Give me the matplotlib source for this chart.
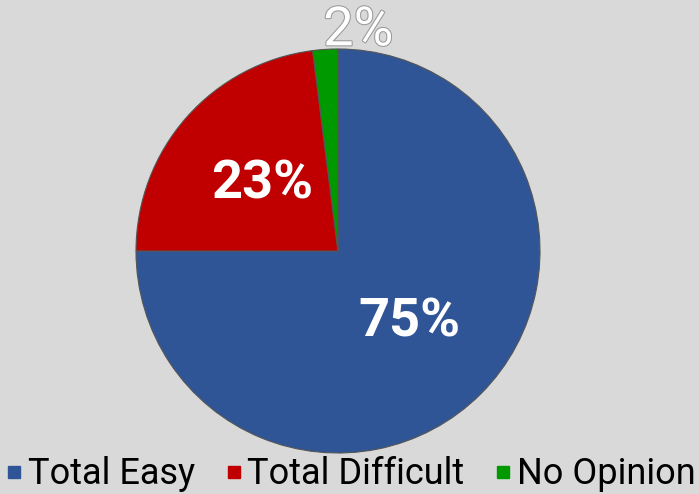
import matplotlib.pyplot as plt
import matplotlib.patheffects as pe
from matplotlib.lines import Line2D

# data
labels = ['Total Easy', 'Total Difficult', 'No Opinion']
values = [75, 23, 2]
colors = ['#2f5597', '#c00000', '#009a00']

plt.rcParams['font.family'] = ['Roboto', 'DejaVu Sans']

fig = plt.figure(figsize=(6.99, 4.94), dpi=100)
fig.patch.set_facecolor('#d9d9d9')

# pie centre (338, 251) px, radius 202 px
ax = fig.add_axes([(338 - 202) / 699, (494 - 453) / 494, 404 / 699, 404 / 494])
ax.set_facecolor('none')

wedges, texts, autotexts = ax.pie(
    values, colors=colors, startangle=90, counterclock=False,
    autopct='%1.0f%%', pctdistance=0.5,
    wedgeprops=dict(edgecolor='#555555', linewidth=0.8),
    textprops=dict(color='white', fontsize=39, fontweight='bold'))
ax.set_xlim(-1, 1)
ax.set_ylim(-1, 1)
ax.set_aspect('equal')

# small slice label sits above the pie
autotexts[2].set_position((0.1, 1.09))
autotexts[2].set_fontweight('normal')
autotexts[2].set_path_effects([pe.withStroke(linewidth=1.5, foreground='#999999')])

handles = [Line2D([], [], marker='s', linestyle='none', markersize=9,
                  markerfacecolor=c, markeredgecolor=c) for c in colors]
fig.legend(handles, labels, loc='lower center', bbox_to_anchor=(0.503, -0.055),
           ncol=3, frameon=False, fontsize=26, handlelength=0.35,
           handletextpad=0.2, columnspacing=0.9, borderpad=0.3)

fig.savefig('out.png', dpi=100, facecolor=fig.get_facecolor())
